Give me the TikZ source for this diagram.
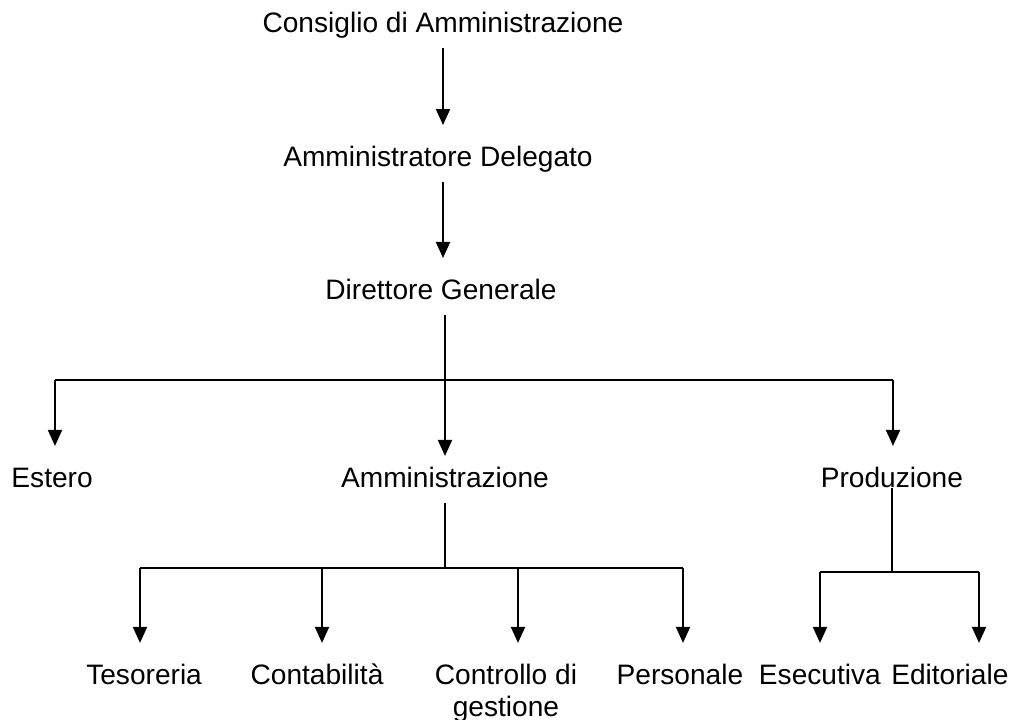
\documentclass[tikz,border=0pt]{standalone}
\usepackage{fontspec}
\setmainfont{Liberation Sans}
\usetikzlibrary{positioning,arrows.meta}

\begin{document}
\begin{tikzpicture}[x=0.02cm ,y=-0.02cm ,node distance =2.67cm and 4cm ,on grid ,
line width=1.1pt ,
unit/.style ={font=\fontsize{16}{18}\selectfont , text height=0.4cm ,
text depth=0.12cm , inner xsep=2pt , inner ysep=0.16cm , align=center},
arr/.style={-{Triangle[length=0.32cm,width=0.28cm]} ,shorten >=0.26cm}
]
\useasboundingbox (0,0) rectangle (1028,720);
\node[unit] (cda) at (443,26) {Consiglio di Amministrazione};
\node[unit] (ad) [below left = 2.68cm and 0.1cm of cda] {Amministratore Delegato};
\node[unit] (dg) [below right = 2.66cm and 0.06cm of ad] {Direttore Generale};
\node[unit] (amm) [below right = 3.76cm and 0.08cm of dg] {Amministrazione};
\node[unit] (est) [left = 7.86cm of amm] {Estero};
\node[unit] (prod) [right = 8.94cm of amm] {Produzione};
\node[unit] (tes) [below left = 3.94cm and 6.02cm of amm] {Tesoreria};
\node[unit] (cont) [right = 3.46cm of tes] {Contabilità};
\node[unit] (ctrl) [right = 3.78cm of cont, yshift=-18pt] {Controllo di\\gestione};
\node[unit] (pers) [right = 3.48cm of ctrl, yshift=18pt] {Personale};
\node[unit] (ese) [right = 2.8cm of pers] {Esecutiva};
\node[unit] (edi) [right = 2.6cm of ese] {Editoriale};
% bus lines
\coordinate (dL) at (55,380);
\coordinate (dR) at (893,380);
\coordinate (a1) at (140,568);
\coordinate (a2) at (322,568);
\coordinate (a3) at (518,568);
\coordinate (a4) at (683,568);
\coordinate (p1) at (820,572);
\coordinate (p2) at (979,572);
\draw[arr] (cda.south) -- (cda.south |- ad.north);
\draw[arr] (cda.south |- ad.south) -- (cda.south |- dg.north);
\draw[arr ,shorten >=0.06cm] (amm.north |- dg.south) -- (amm.north);
\draw (dL) -- (dR);
\draw[arr] (dL) -- (dL |- est.north);
\draw[arr] (dR) -- (dR |- prod.north);
\draw (amm.south) -- (amm.south |- a1);
\draw (a1) -- (a4);
\foreach \c in {a1, a2, a3, a4}
    \draw[arr] (\c) -- (\c |- tes.north);
\draw (prod.base) -- (prod.base |- p1);
\draw (p1) -- (p2);
\foreach \c in {p1, p2}
    \draw[arr] (\c) -- (\c |- ese.north);
\end{tikzpicture}
\end{document}
